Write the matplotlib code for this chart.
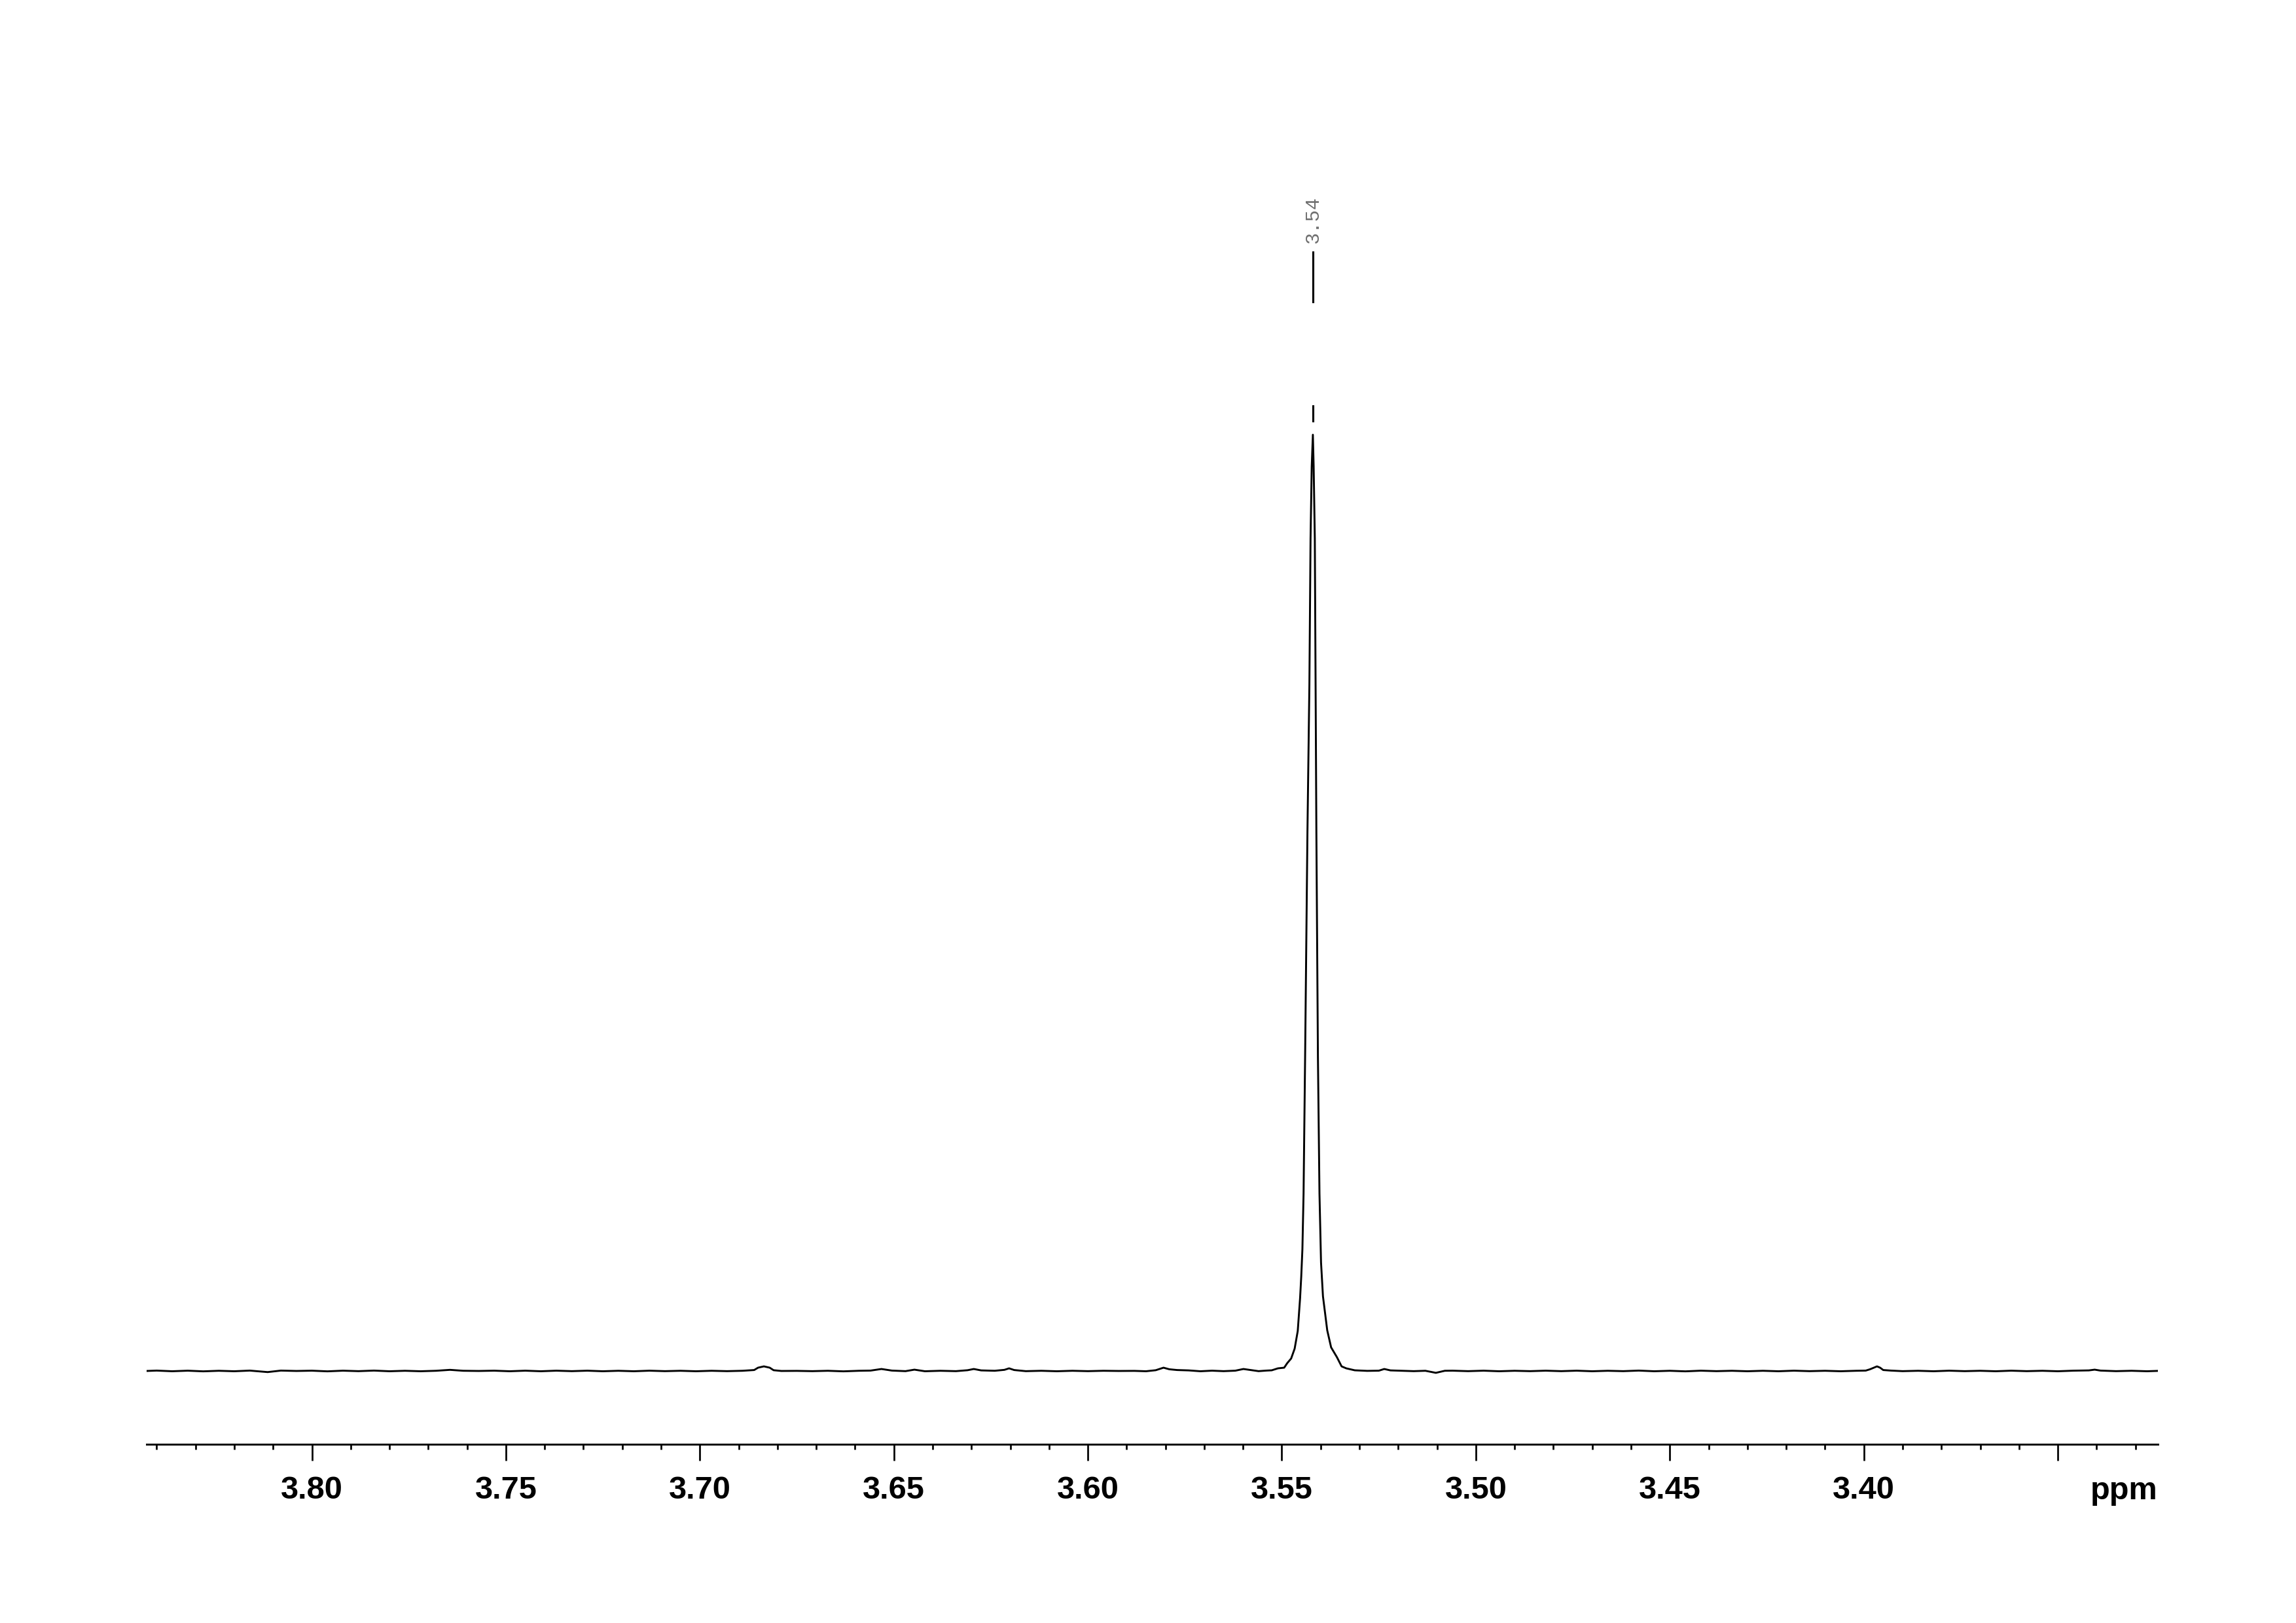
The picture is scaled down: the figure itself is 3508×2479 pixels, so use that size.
import matplotlib
matplotlib.use("Agg")
import matplotlib.pyplot as plt
from matplotlib.ticker import FixedLocator, MultipleLocator

# ---- data ----
ppm = [3.8426, 3.8400, 3.8360, 3.8320, 3.8280, 3.8240, 3.8200, 3.8160, 3.8114, 3.8080,
       3.8040, 3.8000, 3.7960, 3.7920, 3.7880, 3.7840, 3.7800, 3.7760, 3.7720, 3.7680,
       3.7644, 3.7610, 3.7570, 3.7530, 3.7490, 3.7450, 3.7410, 3.7370, 3.7330, 3.7290,
       3.7250, 3.7210, 3.7170, 3.7130, 3.7090, 3.7050, 3.7010, 3.6970, 3.6930, 3.6890,
       3.6860, 3.6850, 3.6835, 3.6820, 3.6810, 3.6790, 3.6750, 3.6710, 3.6670, 3.6630,
       3.6590, 3.6560, 3.6532, 3.6505, 3.6470, 3.6447, 3.6420, 3.6380, 3.6340, 3.6310,
       3.6294, 3.6275, 3.6240, 3.6215, 3.6203, 3.6190, 3.6160, 3.6120, 3.6080, 3.6040,
       3.6000, 3.5960, 3.5920, 3.5880, 3.5850, 3.5825, 3.5805, 3.5790, 3.5770, 3.5740,
       3.5710, 3.5680, 3.5650, 3.5620, 3.5599, 3.5580, 3.5560, 3.5540, 3.5526, 3.5510,
       3.5494, 3.5486, 3.5476, 3.5467, 3.5459, 3.5453, 3.5450, 3.5447, 3.5444, 3.5440,
       3.5434, 3.5429, 3.5426, 3.5423, 3.5420, 3.5418, 3.5415, 3.5413, 3.5411, 3.5407,
       3.5403, 3.5399, 3.5394, 3.5383, 3.5373, 3.5358, 3.5346, 3.5334, 3.5312, 3.5280,
       3.5250, 3.5236, 3.5220, 3.5190, 3.5160, 3.5130, 3.5103, 3.5080, 3.5060, 3.5020,
       3.4980, 3.4940, 3.4900, 3.4860, 3.4820, 3.4780, 3.4740, 3.4700, 3.4660, 3.4620,
       3.4580, 3.4540, 3.4500, 3.4460, 3.4420, 3.4380, 3.4340, 3.4300, 3.4260, 3.4220,
       3.4180, 3.4140, 3.4100, 3.4060, 3.4020, 3.3995, 3.3984, 3.3966, 3.3958, 3.3950,
       3.3930, 3.3900, 3.3860, 3.3820, 3.3780, 3.3740, 3.3700, 3.3660, 3.3620, 3.3580,
       3.3540, 3.3500, 3.3460, 3.3420, 3.3405, 3.3390, 3.3350, 3.3310, 3.3270, 3.3242]

intensity = [0.0000, 0.0004, -0.0003, 0.0003, -0.0004, 0.0002, -0.0003, 0.0004, -0.0012, 0.0004,
             0.0000, 0.0003, -0.0004, 0.0003, -0.0002, 0.0004, -0.0003, 0.0002, -0.0003, 0.0002,
             0.0012, 0.0002, 0.0000, 0.0003, -0.0003, 0.0003, -0.0003, 0.0003, -0.0002, 0.0003,
             -0.0003, 0.0002, -0.0003, 0.0003, -0.0002, 0.0002, -0.0003, 0.0002, -0.0002, 0.0002,
             0.0010, 0.0035, 0.0049, 0.0035, 0.0008, 0.0000, 0.0001, -0.0002, 0.0002, -0.0004,
             0.0002, 0.0004, 0.0021, 0.0004, -0.0002, 0.0014, -0.0003, 0.0002, -0.0002, 0.0008,
             0.0021, 0.0006, 0.0002, 0.0012, 0.0028, 0.0010, -0.0002, 0.0002, -0.0003, 0.0002,
             -0.0002, 0.0002, 0.0000, 0.0001, -0.0003, 0.0008, 0.0035, 0.0018, 0.0010, 0.0006,
             -0.0003, 0.0003, -0.0002, 0.0003, 0.0021, 0.0010, -0.0002, 0.0004, 0.0007, 0.0028,
             0.0035, 0.0084, 0.0133, 0.0238, 0.0427, 0.0776, 0.1007, 0.1300, 0.1895, 0.3357,
             0.5760, 0.7330, 0.8890, 0.9660, 1.0000, 0.9660, 0.8890, 0.7330, 0.5760, 0.3357,
             0.1895, 0.1160, 0.0797, 0.0434, 0.0252, 0.0147, 0.0049, 0.0028, 0.0007, 0.0001,
             0.0003, 0.0021, 0.0006, 0.0002, -0.0002, 0.0002, -0.0020, 0.0002, 0.0003, -0.0002,
             0.0003, -0.0003, 0.0002, -0.0002, 0.0003, -0.0002, 0.0003, -0.0003, 0.0002, -0.0002,
             0.0004, -0.0003, 0.0002, -0.0004, 0.0003, -0.0002, 0.0002, -0.0003, 0.0002, -0.0003,
             0.0003, -0.0002, 0.0002, -0.0003, 0.0002, 0.0004, 0.0018, 0.0049, 0.0035, 0.0010,
             0.0004, -0.0002, 0.0002, -0.0003, 0.0003, -0.0002, 0.0002, -0.0003, 0.0003, -0.0002,
             0.0002, -0.0003, 0.0003, 0.0006, 0.0014, 0.0004, -0.0002, 0.0002, -0.0003, 0.0001]

peak_positions = [3.5420]
peak_labels = ["3.54"]

major_ticks = [3.80, 3.75, 3.70, 3.65, 3.60, 3.55, 3.50, 3.45, 3.40, 3.35]
major_tick_labels = ["3.80", "3.75", "3.70", "3.65", "3.60", "3.55", "3.50", "3.45", "3.40", ""]
x_range = (3.8426, 3.3242)
y_range = (-0.0783, 1.2895)

# ---- figure ----
W, H, DPI = 3508, 2479, 300
fig = plt.figure(figsize=(W / DPI, H / DPI), dpi=DPI)
fig.patch.set_facecolor("white")

left_px, right_px = 224, 3297
axis_y_px, top_px = 2206, 250
ax = fig.add_axes([left_px / W, (H - axis_y_px) / H,
                   (right_px - left_px) / W, (axis_y_px - top_px) / H])

ax.plot(ppm, intensity, color="black", lw=0.7, solid_joinstyle="round")
ax.set_xlim(*x_range)
ax.set_ylim(*y_range)

for s in ["top", "left", "right"]:
    ax.spines[s].set_visible(False)
ax.spines["bottom"].set_linewidth(0.7)
ax.set_yticks([])

ax.xaxis.set_major_locator(FixedLocator(major_ticks))
ax.set_xticklabels(major_tick_labels)
ax.xaxis.set_minor_locator(MultipleLocator(0.01))
ax.tick_params(axis="x", which="major", direction="out", length=6, width=0.65, pad=5.5,
               labelsize=11.7)
ax.tick_params(axis="x", which="minor", direction="out", length=2, width=0.65)
for lab in ax.get_xticklabels():
    lab.set_fontfamily("Liberation Sans")
    lab.set_fontweight("bold")

# "ppm" unit label at right end of axis
ax.text(1.0, -(2290 - axis_y_px) / (axis_y_px - top_px), "ppm", transform=ax.transAxes,
        ha="right", va="baseline", fontsize=11.7, fontweight="bold",
        family="Liberation Sans")

# peak labels
for pos, lab in zip(peak_positions, peak_labels):
    ax.plot([pos, pos], [1.142, 1.195], color="black", lw=0.75, clip_on=False)
    ax.plot([pos, pos], [1.015, 1.031], color="black", lw=0.75, clip_on=False)
    ax.text(pos, 1.204, lab, rotation=90, ha="center", va="bottom",
            fontsize=7.2, family="Liberation Mono", color="#6e6e6e", clip_on=False)

fig.savefig("out.png", dpi=DPI, facecolor="white")
